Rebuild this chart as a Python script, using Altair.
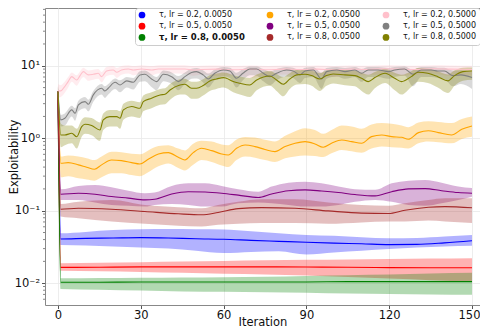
import altair as alt
import pandas as pd

# ---------------- data ----------------
NAMES = [
    "τ, lr = 0.2, 0.0050", "τ, lr = 0.5, 0.0050", "τ, lr = 0.8, 0.0050",
    "τ, lr = 0.2, 0.0500", "τ, lr = 0.5, 0.0500", "τ, lr = 0.8, 0.0500",
    "τ, lr = 0.2, 0.5000", "τ, lr = 0.5, 0.5000", "τ, lr = 0.8, 0.5000",
]
COLORS = ["#0000ff", "#ff0000", "#008000",
          "#ffa500", "#800080", "#a52a2a",
          "#ffc0cb", "#808080", "#808000"]

# tau 0.2, lr 0.005 (blue)
X_BLUE = [0, 1, 10, 20, 30, 40, 50, 60, 70, 80, 90, 100, 110, 120, 130, 140, 150]
M_BLUE = [4.4, 0.0408, 0.0415, 0.042, 0.0425, 0.042, 0.041, 0.0404, 0.039, 0.0378, 0.0367, 0.0357, 0.035, 0.0341, 0.0343, 0.036, 0.0385]
L_BLUE = [3.6, 0.0336, 0.033, 0.0321, 0.031, 0.030, 0.028, 0.0261, 0.027, 0.0276, 0.0248, 0.0265, 0.028, 0.0296, 0.031, 0.032, 0.0328]
H_BLUE = [5.3, 0.049, 0.051, 0.054, 0.0555, 0.056, 0.0555, 0.055, 0.052, 0.049, 0.0463, 0.045, 0.043, 0.0417, 0.042, 0.044, 0.0463]

# tau 0.5, lr 0.005 (red)
X_RED = [0, 1, 15, 30, 45, 60, 75, 90, 105, 120, 135, 150]
M_RED = [4.4, 0.0165, 0.0166, 0.0168, 0.0168, 0.0168, 0.0168, 0.0167, 0.0166, 0.0164, 0.0163, 0.0163]
L_RED = [3.6, 0.0148, 0.0146, 0.0143, 0.0139, 0.0135, 0.0132, 0.0128, 0.0122, 0.0116, 0.011, 0.0105]
H_RED = [5.3, 0.0189, 0.0192, 0.0195, 0.0199, 0.0203, 0.0207, 0.021, 0.0213, 0.0216, 0.0219, 0.0221]

# tau 0.8, lr 0.005 (green)
X_GREEN = [0, 1, 15, 30, 45, 60, 75, 90, 105, 120, 135, 150]
M_GREEN = [4.4, 0.0103, 0.0103, 0.0104, 0.0104, 0.0104, 0.0104, 0.0104, 0.0105, 0.0105, 0.0105, 0.0105]
L_GREEN = [3.6, 0.0083, 0.0081, 0.0079, 0.0077, 0.0076, 0.0075, 0.0074, 0.0072, 0.0071, 0.0070, 0.0069]
H_GREEN = [5.3, 0.0117, 0.0118, 0.0119, 0.012, 0.0121, 0.0123, 0.0126, 0.0129, 0.0132, 0.0136, 0.0139]

# tau 0.2, lr 0.05 (orange)
X_ORANGE = [0, 1, 3.7, 7.4, 10.4, 13.2, 15.8, 19.4, 23, 26.7, 29.7, 32.7, 36.4, 40, 43.6, 46, 49, 52, 55.7, 59.3,
            61.7, 64.7, 67.8, 71.4, 75, 78.6, 82.3, 85.9, 89.5, 93.1, 96.1, 99.1, 102.8, 106.4, 110, 113.6, 117.3,
            120.9, 124.5, 126.9, 130.6, 134.2, 137.8, 142.6, 146.3, 150]
M_ORANGE = [4.4, 0.452, 0.461, 0.429, 0.398, 0.373, 0.429, 0.502, 0.491, 0.461, 0.442, 0.512, 0.607, 0.634, 0.546,
            0.502, 0.634, 0.727, 0.675, 0.607, 0.588, 0.727, 0.808, 0.767, 0.70, 0.654, 0.767, 0.852, 0.898, 0.834,
            0.751, 0.852, 0.947, 0.898, 0.852, 1.053, 1.11, 1.053, 1.03, 0.968, 1.196, 1.27, 1.196, 1.11, 1.33, 1.48]
L_ORANGE = [3.6, 0.29, 0.30, 0.28, 0.27, 0.26, 0.29, 0.33, 0.33, 0.31, 0.30, 0.34, 0.41, 0.45, 0.39, 0.36, 0.43,
            0.50, 0.47, 0.42, 0.40, 0.50, 0.56, 0.54, 0.50, 0.47, 0.53, 0.56, 0.58, 0.57, 0.55, 0.62, 0.69, 0.66,
            0.63, 0.72, 0.77, 0.75, 0.74, 0.72, 0.85, 0.90, 0.88, 0.85, 0.98, 1.05]
H_ORANGE = [5.3, 0.56, 0.58, 0.56, 0.53, 0.50, 0.56, 0.65, 0.64, 0.61, 0.60, 0.68, 0.78, 0.80, 0.72, 0.68, 0.84,
            0.92, 0.90, 0.82, 0.80, 0.96, 1.04, 1.02, 0.95, 0.90, 1.08, 1.25, 1.37, 1.30, 1.15, 1.30, 1.50, 1.45,
            1.35, 1.55, 1.62, 1.58, 1.50, 1.42, 1.65, 1.72, 1.68, 1.62, 1.85, 2.0]

# tau 0.5, lr 0.05 (purple)
X_PURPLE = [0, 1, 7.4, 13.4, 19.4, 25.5, 31.5, 35, 41.2, 47.2, 53.3, 59.3, 65.3, 72.6, 77.4, 83.5, 89.5, 95.5,
            101.6, 107.6, 114.9, 120.9, 127, 133, 139, 145, 150]
M_PURPLE = [4.4, 0.169, 0.174, 0.169, 0.157, 0.149, 0.141, 0.144, 0.170, 0.183, 0.181, 0.174, 0.164, 0.152, 0.170,
            0.189, 0.194, 0.187, 0.178, 0.167, 0.160, 0.183, 0.200, 0.202, 0.189, 0.178, 0.174]
L_PURPLE = [3.6, 0.141, 0.141, 0.130, 0.120, 0.117, 0.114, 0.120, 0.124, 0.120, 0.114, 0.114, 0.127, 0.130, 0.127,
            0.120, 0.114, 0.114, 0.120, 0.133, 0.141, 0.133, 0.120, 0.117, 0.127, 0.141, 0.156]
H_PURPLE = [5.3, 0.198, 0.220, 0.227, 0.211, 0.189, 0.174, 0.178, 0.220, 0.239, 0.239, 0.220, 0.198, 0.183, 0.215,
            0.244, 0.252, 0.239, 0.215, 0.198, 0.194, 0.239, 0.260, 0.266, 0.244, 0.215, 0.205]

# tau 0.8, lr 0.05 (brown)
X_BROWN = [0, 1, 7.4, 19.4, 31.5, 43.6, 52, 58, 65.3, 73.8, 85.9, 97.9, 110, 119.7, 125.7, 134.2, 140.2, 150]
M_BROWN = [4.4, 0.1047, 0.108, 0.1047, 0.0975, 0.0907, 0.0879, 0.0944, 0.107, 0.1104, 0.108, 0.0994, 0.0926,
           0.0915, 0.1015, 0.1116, 0.114, 0.110]
L_BROWN = [3.6, 0.0832, 0.0789, 0.0712, 0.0661, 0.0620, 0.0607, 0.0640, 0.0661, 0.0675, 0.0675, 0.0661, 0.0690,
           0.0712, 0.0712, 0.0735, 0.0712, 0.0675]
H_BROWN = [5.3, 0.124, 0.133, 0.141, 0.120, 0.112, 0.108, 0.120, 0.133, 0.144, 0.144, 0.130, 0.120, 0.117, 0.127,
           0.141, 0.149, 0.149]

# tau 0.2, lr 0.5 (pink)
X_PINK = [0, 1, 2, 3.7, 5, 6.8, 8, 9.2, 11, 12.8, 14.6, 15.8, 17.6, 20, 21.3, 23, 25.5, 27.3, 30.3, 34, 36.4,
          41.2, 46, 49, 52, 58, 64, 70, 76, 82, 88, 94, 100, 106, 112, 118, 124, 130, 136, 142, 150]
M_PINK = [4.5, 4.5, 4.9, 6.05, 7.08, 6.37, 7.32, 8.3, 7.48, 7.63, 7.87, 7.08, 8.48, 8.75, 8.13, 8.75, 9.03, 8.75,
          9.03, 8.75, 9.03, 9.03, 9.03, 8.75, 8.9, 9.0, 8.8, 9.0, 8.8, 9.0, 8.9, 9.0, 8.8, 9.0, 8.9, 9.1, 9.0,
          8.9, 9.1, 9.0, 8.9]
L_PINK = [3.6, 3.7, 4.0, 5.0, 6.0, 5.3, 6.2, 7.0, 6.2, 6.4, 6.6, 5.9, 7.2, 7.5, 6.8, 7.5, 7.8, 7.4, 7.8, 7.4, 7.8,
          7.8, 7.7, 7.3, 7.6, 7.2, 7.4, 6.8, 7.4, 7.6, 7.5, 7.4, 7.0, 7.6, 7.4, 7.7, 7.3, 7.5, 7.8, 7.2, 7.4]
H_PINK = [5.6, 5.4, 5.8, 7.0, 8.1, 7.4, 8.4, 9.4, 8.6, 8.8, 9.0, 8.2, 9.6, 9.9, 9.3, 9.9, 10.2, 9.9, 10.2, 9.9,
          10.2, 10.2, 10.2, 9.9, 10.0, 10.1, 9.9, 10.1, 9.9, 10.1, 10.0, 10.1, 9.9, 10.1, 10.0, 10.2, 10.1, 10.0,
          10.2, 10.1, 10.0]

# tau 0.5, lr 0.5 (gray)
X_GRAY = [0, 1, 2.5, 5, 6.2, 7.4, 9.8, 11, 12.8, 15.8, 17, 18.2, 20.7, 22.5, 24.9, 27.3, 29.7, 31.5, 33.9, 35.7,
          38.2, 41.2, 43.6, 46, 48.4, 50.2, 52.6, 54.4, 56.8, 60, 62.3, 64.7, 67, 69.5, 72, 74.4, 76.8, 79.2, 82.8,
          85.2, 87.7, 89.5, 92.5, 95.5, 97.3, 101, 104, 107.6, 110, 112.4, 116, 119.7, 122, 125.6, 128.6, 131.6,
          135.2, 137.6, 140, 143, 146, 150]
M_GRAY = [4.4, 1.79, 1.89, 2.46, 2.21, 2.88, 3.2, 2.94, 3.96, 4.89, 4.49, 4.89, 5.92, 5.44, 6.18, 5.92, 7.48, 7.63,
          6.58, 6.05, 7.63, 7.08, 6.05, 7.08, 8.1, 8.3, 7.48, 6.58, 7.87, 8.75, 8.48, 6.72, 7.87, 9.03, 9.03, 7.87,
          7.08, 7.87, 8.75, 8.48, 7.48, 8.48, 8.75, 6.58, 8.3, 8.75, 8.3, 8.75, 7.87, 8.75, 8.75, 8.3, 8.75, 9.03,
          7.63, 8.75, 8.75, 8.48, 8.48, 7.32, 7.48, 6.87]
L_GRAY = [3.5, 1.45, 1.5, 2.0, 1.75, 2.35, 2.6, 2.35, 3.2, 4.0, 3.6, 4.0, 4.8, 4.3, 5.0, 4.7, 6.0, 6.1, 5.1, 4.6,
          6.1, 5.6, 4.6, 5.6, 6.6, 6.7, 5.9, 5.0, 6.3, 7.1, 6.8, 5.0, 6.3, 7.4, 7.3, 6.1, 5.4, 6.3, 7.1, 6.8, 5.8,
          6.8, 7.0, 4.8, 6.6, 7.1, 6.6, 7.0, 6.0, 7.0, 7.0, 6.6, 7.0, 7.3, 5.2, 7.0, 7.0, 6.8, 6.6, 5.2, 5.6, 4.8]
H_GRAY = [5.4, 2.1, 2.2, 2.8, 2.6, 3.3, 3.7, 3.4, 4.5, 5.6, 5.2, 5.6, 6.7, 6.3, 7.0, 6.8, 8.4, 8.6, 7.6, 7.0, 8.6,
          8.1, 7.2, 8.1, 9.1, 9.3, 8.6, 7.8, 8.9, 9.6, 9.4, 8.0, 9.0, 9.8, 9.8, 9.0, 8.3, 9.0, 9.6, 9.4, 8.6, 9.4,
          9.6, 8.0, 9.3, 9.6, 9.3, 9.6, 9.0, 9.6, 9.6, 9.3, 9.6, 9.8, 8.8, 9.6, 9.6, 9.4, 9.4, 8.6, 8.7, 8.2]

# tau 0.8, lr 0.5 (olive)
X_OLIVE = [0, 1, 2.5, 5, 6.8, 8.6, 9.8, 12.2, 15.2, 16.4, 18.8, 21.3, 22.5, 23.7, 26.7, 29.7, 30.9, 33.9, 37, 38.8,
           40.6, 44.2, 46, 48.4, 50.2, 52.6, 55, 57.4, 60, 61, 63.5, 65.9, 69.5, 72, 76.8, 79.2, 81.6, 84, 86.5,
           89.5, 91.9, 94.9, 97.3, 99.7, 104, 107.6, 110, 112.4, 114.8, 118.5, 122, 124.5, 128, 130.5, 134, 137.6,
           141.3, 143.7, 146.7, 150]
M_OLIVE = [4.4, 1.11, 1.11, 1.17, 1.05, 1.45, 1.56, 1.50, 1.30, 1.79, 1.99, 1.99, 1.89, 2.46, 2.74, 2.59, 3.20,
           3.56, 3.96, 4.04, 4.64, 5.44, 5.56, 4.89, 4.89, 5.33, 6.18, 6.58, 6.87, 6.72, 6.05, 5.74, 5.44, 6.37,
           7.24, 6.37, 5.56, 6.58, 7.48, 7.63, 7.32, 6.58, 7.32, 7.71, 7.48, 7.32, 6.72, 6.05, 6.87, 7.87, 6.72,
           6.05, 7.08, 8.13, 7.87, 7.08, 6.18, 7.32, 8.3, 8.48]
L_OLIVE = [3.6, 0.75, 0.8, 0.85, 0.72, 1.05, 1.15, 1.1, 0.92, 1.3, 1.45, 1.45, 1.35, 1.8, 2.0, 1.9, 2.35, 2.6, 2.9,
           2.95, 3.4, 4.0, 4.0, 3.5, 3.5, 3.9, 4.5, 4.8, 5.0, 4.9, 4.3, 4.0, 3.7, 4.6, 5.3, 4.5, 3.8, 4.8, 5.5, 5.6,
           5.3, 4.5, 5.3, 5.7, 5.4, 5.2, 4.5, 4.0, 4.9, 5.8, 4.6, 4.0, 5.1, 6.0, 5.8, 5.0, 4.2, 5.3, 6.2, 6.4]
H_OLIVE = [5.3, 1.6, 1.5, 1.5, 1.35, 1.8, 1.95, 1.9, 1.65, 2.2, 2.45, 2.45, 2.35, 3.0, 3.3, 3.15, 3.9, 4.3, 4.8,
           4.9, 5.6, 6.5, 6.6, 6.0, 6.0, 6.5, 7.4, 7.8, 8.1, 8.0, 7.4, 7.1, 6.8, 7.6, 8.5, 7.7, 7.0, 7.9, 8.8, 8.9,
           8.6, 7.9, 8.6, 9.0, 8.8, 8.6, 8.0, 7.5, 8.2, 9.1, 8.0, 7.5, 8.4, 9.3, 9.1, 8.4, 7.6, 8.6, 9.4, 9.5]

X_TICKS = [0, 30, 60, 90, 120, 150]
Y_MAJOR = [0.01, 0.1, 1, 10]
Y_MINOR = [0.006, 0.007, 0.008, 0.009, 0.02, 0.03, 0.04, 0.05, 0.06, 0.07, 0.08, 0.09,
           0.2, 0.3, 0.4, 0.5, 0.6, 0.7, 0.8, 0.9, 2, 3, 4, 5, 6, 7, 8, 9, 20, 30, 40, 50, 60]

# ---------------- build long table ----------------
SERIES = [
    (NAMES[0], X_BLUE, M_BLUE, L_BLUE, H_BLUE),
    (NAMES[1], X_RED, M_RED, L_RED, H_RED),
    (NAMES[2], X_GREEN, M_GREEN, L_GREEN, H_GREEN),
    (NAMES[3], X_ORANGE, M_ORANGE, L_ORANGE, H_ORANGE),
    (NAMES[4], X_PURPLE, M_PURPLE, L_PURPLE, H_PURPLE),
    (NAMES[5], X_BROWN, M_BROWN, L_BROWN, H_BROWN),
    (NAMES[6], X_PINK, M_PINK, L_PINK, H_PINK),
    (NAMES[7], X_GRAY, M_GRAY, L_GRAY, H_GRAY),
    (NAMES[8], X_OLIVE, M_OLIVE, L_OLIVE, H_OLIVE),
]
rows = []
for order, (name, xs, ms, ls, hs) in enumerate(SERIES):
    for x, m, lo, hi in zip(xs, ms, ls, hs):
        rows.append({"series": name, "order": order, "iter": x, "mean": m, "lo": lo, "hi": hi})
df = pd.DataFrame(rows)
minor_df = pd.DataFrame({"v": Y_MINOR})

FONT = "DejaVu Sans"
TXT = "#111111"
BOLD_TEST = "datum.value == 'τ, lr = 0.8, 0.0050'"
xscale = alt.Scale(domain=[-4.7, 152.9], nice=False, zero=False)
yscale = alt.Scale(type="log", domain=[0.005, 62.7], nice=False)

label_expr = ("datum.value == 10 ? '10¹' : datum.value == 1 ? '10⁰' : "
              "datum.value == 0.1 ? '10⁻¹' : datum.value == 0.01 ? '10⁻²' : ''")

x_axis = alt.Axis(values=X_TICKS, title="Iteration", grid=True, gridColor="#e8e8e8",
                  gridWidth=0.8, domain=False, tickSize=3.5, tickColor="#555555",
                  labelFontSize=11.5, labelPadding=1, labelColor=TXT,
                  labelOffset=alt.ConditionalAxisNumber(
                      condition={"test": "datum.value == 150", "value": -3}, value=0),
                  titleFontSize=11.5, titleFontWeight="normal", titleColor=TXT,
                  titleBaseline="alphabetic", titleY=20.5,
                  labelFont=FONT, titleFont=FONT)
y_axis = alt.Axis(values=Y_MAJOR, labelExpr=label_expr, title="Exploitability", grid=True,
                  gridColor="#e8e8e8", gridWidth=0.8, domain=False, tickSize=3.5,
                  tickColor="#555555", labelFontSize=11.5, labelPadding=2, labelColor=TXT,
                  titleFontSize=11.5, titleFontWeight="normal", titleColor=TXT,
                  titleBaseline="top", titleX=-37,
                  labelFont=FONT, titleFont=FONT)

bands = alt.Chart(df).mark_area(opacity=0.3, interpolate="monotone").encode(
    x=alt.X("iter:Q", scale=xscale, axis=x_axis),
    y=alt.Y("lo:Q", scale=yscale, axis=y_axis),
    y2="hi:Q",
    color=alt.Color("series:N", scale=alt.Scale(domain=NAMES, range=COLORS),
                    legend=alt.Legend(
                        title=None, orient="top-right", offset=0, columns=3,
                        symbolType="circle", symbolSize=45, symbolOpacity=1, symbolStrokeWidth=0,
                        labelFontSize=alt.ExprRef(expr=BOLD_TEST + " ? 8.5 : 8"),
                        labelFont=FONT, labelColor=TXT,
                        labelFontWeight=alt.ExprRef(expr=BOLD_TEST + " ? 'bold' : 'normal'"),
                        rowPadding=3.2, columnPadding=21, labelOffset=13, padding=3,
                        fillColor="rgba(255,255,255,0.85)", strokeColor="#cccccc", cornerRadius=3)),
    order=alt.Order("order:Q"),
)

lines = alt.Chart(df).mark_line(strokeWidth=1.1, interpolate="monotone").encode(
    x=alt.X("iter:Q", scale=xscale),
    y=alt.Y("mean:Q", scale=yscale),
    stroke=alt.Stroke("series:N", scale=alt.Scale(domain=NAMES, range=COLORS), legend=None),
)

minor_ticks = alt.Chart(minor_df).mark_rule(color="#555555", strokeWidth=0.7).encode(
    x=alt.value(0), x2=alt.value(-2),
    y=alt.Y("v:Q", scale=yscale),
)

chart = alt.layer(bands, lines, minor_ticks).properties(
    width=435, height=297,
    padding={"left": 37, "top": 0, "right": 0, "bottom": 23},
    autosize=alt.AutoSizeParams(type="none"),
).configure_view(stroke="#888888", strokeWidth=1)

chart.save("out.html", embed_options={"renderer": "svg", "actions": False})
